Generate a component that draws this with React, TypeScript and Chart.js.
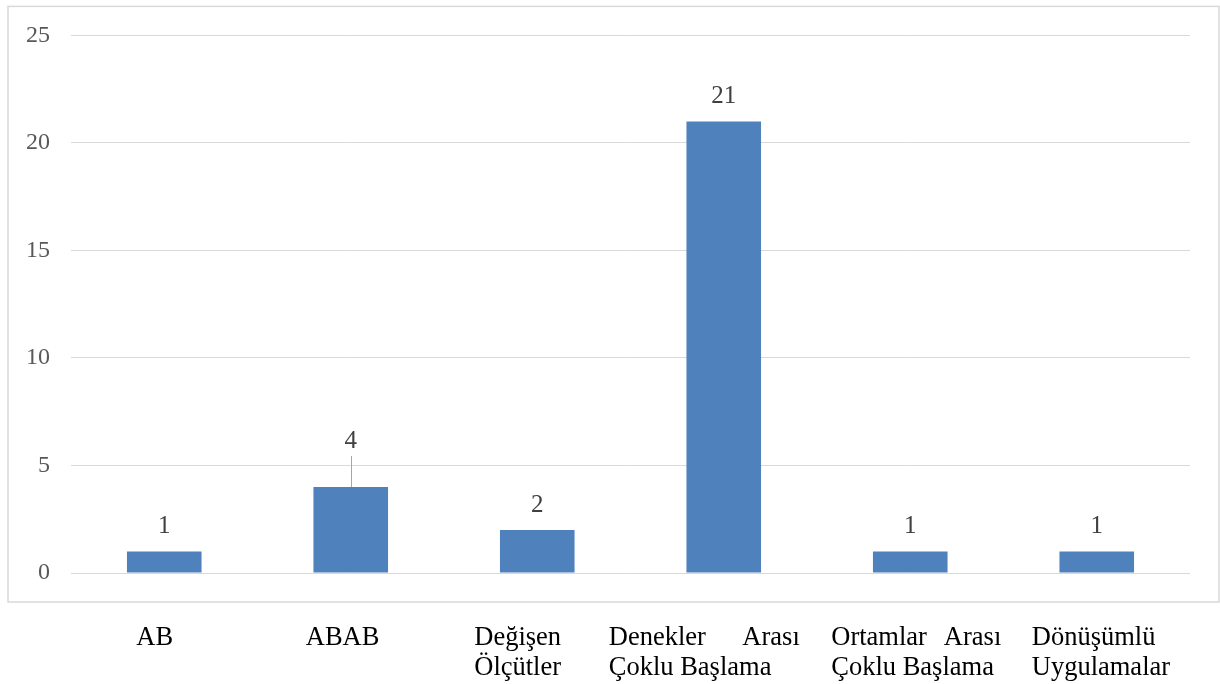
import React, { useEffect, useRef } from "react";
import { Chart, registerables } from "chart.js";

Chart.register(...registerables);

const categoryLines: string[][] = [
  ["AB"],
  ["ABAB"],
  ["Değişen", "Ölçütler"],
  ["Denekler Arası", "Çoklu Başlama"],
  ["Ortamlar Arası", "Çoklu Başlama"],
  ["Dönüşümlü", "Uygulamalar"],
];
const counts: number[] = [1, 4, 2, 21, 1, 1];
const yTicks: number[] = [0, 5, 10, 15, 20, 25];

// layout (not data): left edge of each category caption relative to its bar centre,
// and the width a caption's justified lines are spread over (0 = widest line)
const LABEL_SHIFT = [-28, -45, -63, -115, -79, -65];
const LABEL_BOX = [0, 0, 0, 191, 170, 0];
const LEADER_INDEX = 1;

const SERIF = '"Times New Roman", "Liberation Serif", serif';

const framePlugin = {
  id: "frame",
  beforeDraw(chart: any) {
    const { ctx, chartArea } = chart;
    ctx.save();
    ctx.strokeStyle = "#D9D9D9";
    ctx.lineWidth = 1.5;
    ctx.strokeRect(
      chartArea.left - 63,
      chartArea.top - 29,
      chartArea.right - chartArea.left + 92,
      chartArea.bottom - chartArea.top + 58
    );
    ctx.restore();
  },
};

const valueLabelPlugin = {
  id: "valueLabels",
  afterDatasetsDraw(chart: any) {
    const ctx = chart.ctx;
    const meta = chart.getDatasetMeta(0);
    const data = chart.data.datasets[0].data as number[];
    ctx.save();
    ctx.font = `25px ${SERIF}`;
    ctx.fillStyle = "#404040";
    ctx.textAlign = "center";
    ctx.textBaseline = "alphabetic";
    meta.data.forEach((bar: any, i: number) => {
      const lifted = i === LEADER_INDEX;
      const base = bar.y - 18 - (lifted ? 21 : 0);
      ctx.fillText(String(data[i]), bar.x, base);
      if (lifted) {
        ctx.strokeStyle = "#A6A6A6";
        ctx.lineWidth = 1;
        ctx.beginPath();
        ctx.moveTo(Math.round(bar.x) + 0.5, bar.y - 31);
        ctx.lineTo(Math.round(bar.x) + 0.5, bar.y);
        ctx.stroke();
      }
    });
    ctx.restore();
  },
};

const categoryLabelPlugin = {
  id: "categoryLabels",
  afterDraw(chart: any) {
    const ctx = chart.ctx;
    const xScale = chart.scales.x;
    const labels = chart.data.labels as string[][];
    ctx.save();
    ctx.font = `26.5px ${SERIF}`;
    ctx.fillStyle = "#000000";
    ctx.textAlign = "left";
    ctx.textBaseline = "alphabetic";
    labels.forEach((lines, i) => {
      const left = xScale.getPixelForValue(i) + LABEL_SHIFT[i];
      const blockW =
        LABEL_BOX[i] || Math.max(...lines.map((l) => ctx.measureText(l).width));
      lines.forEach((line, j) => {
        const y = chart.chartArea.bottom + 72 + j * 30;
        const words = line.split(" ");
        if (j < lines.length - 1 && words.length > 1) {
          const wordsW = words.reduce((s, w) => s + ctx.measureText(w).width, 0);
          const gap = (blockW - wordsW) / (words.length - 1);
          let px = left;
          words.forEach((w) => {
            ctx.fillText(w, px, y);
            px += ctx.measureText(w).width + gap;
          });
        } else {
          ctx.fillText(line, left, y);
        }
      });
    });
    ctx.restore();
  },
};

export default function App() {
  const ref = useRef<HTMLCanvasElement | null>(null);

  useEffect(() => {
    if (!ref.current) return;
    const chart = new Chart(ref.current, {
      type: "bar",
      data: {
        labels: categoryLines,
        datasets: [
          {
            data: counts,
            backgroundColor: "#4F81BD",
            borderWidth: 0,
            barPercentage: 0.4,
            categoryPercentage: 1,
          },
        ],
      },
      options: {
        animation: false,
        responsive: true,
        maintainAspectRatio: false,
        layout: { padding: { top: 34, bottom: 111, right: 30, left: 0 } },
        plugins: {
          legend: { display: false },
          tooltip: { enabled: false },
          title: { display: false },
        },
        scales: {
          x: {
            type: "category",
            display: false,
            offset: true,
          },
          y: {
            min: 0,
            max: 25,
            afterBuildTicks(scale: any) {
              scale.ticks = yTicks.map((v) => ({ value: v }));
            },
            afterFit(scale: any) {
              scale.width = 71;
            },
            ticks: {
              color: "#595959",
              font: { family: SERIF, size: 24 },
              padding: 21,
            },
            grid: {
              color: "#D9D9D9",
              lineWidth: 1,
              drawTicks: false,
            },
            border: { display: false },
          },
        },
      },
      plugins: [framePlugin, valueLabelPlugin, categoryLabelPlugin],
    });
    return () => chart.destroy();
  }, []);

  return (
    <div style={{ position: "absolute", left: 0, top: 0, width: 1220, height: 684, background: "#ffffff" }}>
      <canvas ref={ref} />
    </div>
  );
}
